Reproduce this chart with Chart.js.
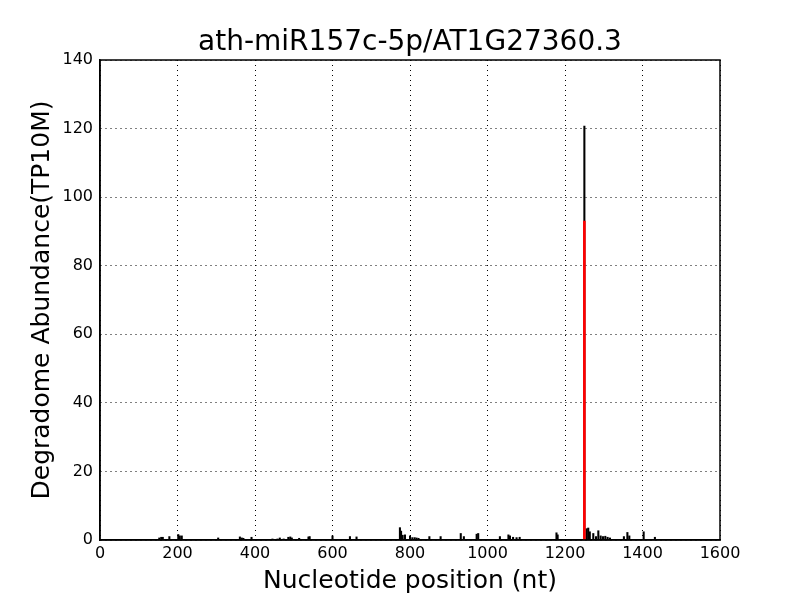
<!DOCTYPE html>
<html>
<head>
<meta charset="utf-8">
<script src="https://cdn.jsdelivr.net/npm/chart.js@4/dist/chart.umd.min.js"></script>
<style>
html,body{margin:0;padding:0;background:#fff;}
#wrap{width:800px;height:600px;}
</style>
</head>
<body>
<div id="wrap"><canvas id="c" width="800" height="600"></canvas></div>
<script>
const chartTitle = "ath-miR157c-5p/AT1G27360.3";
const xAxisTitle = "Nucleotide position (nt)";
const yAxisTitle = "Degradome Abundance(TP10M)";
const xTicks = [0,200,400,600,800,1000,1200,1400,1600];
const yTicks = [0,20,40,60,80,100,120,140];

const positions = [107,136,153,158,162,179,202,206,211,243,305,361,366,370,391,432,445,458,464,474,486,491,495,514,538,541,600,645,662,690,720,774,777,781,787,800,806,812,817,822,850,879,931,939,972,976,1032,1054,1058,1066,1075,1083,1120,1178,1181,1210,1250,1256,1260,1264,1273,1280,1286,1292,1298,1304,1310,1316,1352,1361,1366,1403,1432];
const abundance = [0.1,0.1,0.6,0.8,0.8,1.0,1.6,1.2,1.2,0.2,0.6,0.9,0.6,0.5,0.8,0.2,0.3,0.3,0.6,0.3,0.8,0.9,0.6,0.5,0.9,1.0,1.2,1.0,0.9,0.2,0.2,3.6,2.6,1.4,1.5,1.2,0.7,0.7,0.6,0.5,1.0,1.0,1.9,1.0,1.7,1.9,1.0,1.5,1.2,0.8,0.7,0.8,0.2,2.1,1.5,0.2,120.7,3.3,3.5,2.4,1.9,1.0,2.7,1.2,1.0,1.1,0.8,0.6,1.0,2.2,1.2,2.4,0.8];
const cleavagePos = [1250];
const cleavageVal = [93];

const blackData = positions.map((p,i)=>({x:p,y:abundance[i]}));
const redData = cleavagePos.map((p,i)=>({x:p,y:cleavageVal[i]}));

const frameAndTitle = {
  id:'frameAndTitle',
  afterDraw(chart){
    const {ctx, chartArea:a} = chart;
    ctx.save();
    ctx.strokeStyle='#000';
    ctx.lineWidth=1.5;
    ctx.strokeRect(a.left, a.top, a.right-a.left, a.bottom-a.top);
    ctx.fillStyle='#000';
    ctx.font='28px "DejaVu Sans"';
    ctx.textAlign='center';
    ctx.textBaseline='middle';
    ctx.fillText(chartTitle, (a.left+a.right)/2, 43);
    ctx.restore();
  }
};

new Chart(document.getElementById('c'), {
  type:'bar',
  data:{
    datasets:[
      {label:'cleavage', data:redData, backgroundColor:'#ff0000', borderWidth:0, barThickness:2, grouped:false, order:0},
      {label:'abundance', data:blackData, backgroundColor:'#000000', borderWidth:0, barThickness:1.4, grouped:false, order:1}
    ]
  },
  options:{
    responsive:false,
    animation:false,
    devicePixelRatio:1,
    layout:{padding:{left:0,right:80,top:60,bottom:0}},
    plugins:{
      legend:{display:false},
      tooltip:{enabled:false},
      title:{display:false}
    },
    scales:{
      x:{
        type:'linear', min:0, max:1600, offset:false,
        afterBuildTicks(s){ s.ticks = xTicks.map(v=>({value:v})); },
        afterFit(s){ s.height = 60; },
        ticks:{color:'#000',font:{family:'DejaVu Sans',size:16},padding:4,maxRotation:0,autoSkip:false,callback:v=>String(v)},
        grid:{color:'#000',lineWidth:1,drawTicks:false,offset:false},
        border:{display:true,color:'#000',width:1.5,dash:[1,4]},
        title:{display:true,text:xAxisTitle,color:'#000',font:{family:'DejaVu Sans',size:25},padding:{top:0,bottom:4}}
      },
      y:{
        type:'linear', min:0, max:140,
        afterBuildTicks(s){ s.ticks = yTicks.map(v=>({value:v})); },
        afterFit(s){ s.width = 100; },
        ticks:{color:'#000',font:{family:'DejaVu Sans',size:16},padding:7,autoSkip:false,callback:v=>String(v)},
        grid:{color:'#000',lineWidth:1,drawTicks:false},
        border:{display:true,color:'#000',width:1.5,dash:[1,4]},
        title:{display:true,text:yAxisTitle,color:'#000',font:{family:'DejaVu Sans',size:25},padding:{top:27,bottom:0}}
      }
    }
  },
  plugins:[frameAndTitle]
});
</script>
</body>
</html>
